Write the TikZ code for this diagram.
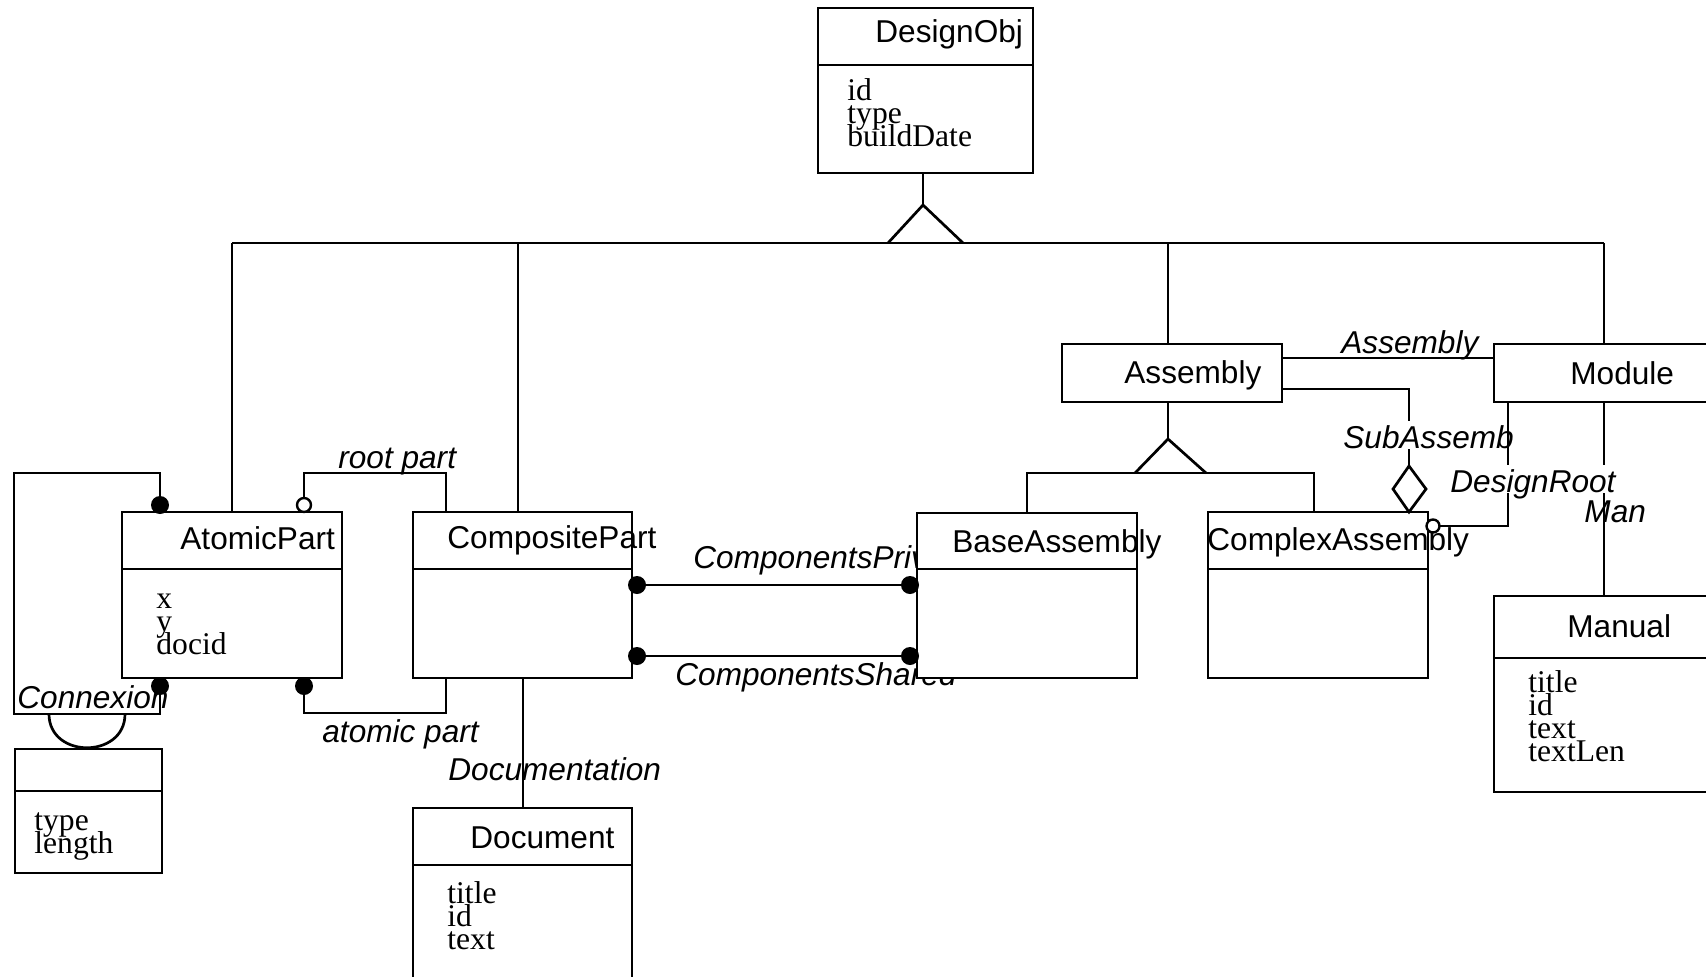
\documentclass[tikz,border=0pt]{standalone}
\usepackage{fontspec}
\setmainfont{Liberation Serif}
\setsansfont{Liberation Sans}
\usetikzlibrary{calc}
\tikzset{
  ln/.style={line width=1.35pt},
  clsbox/.style={draw, line width=1.35pt, fill=white, inner sep=0pt, outer sep=0pt, anchor=north west},
  cname/.style={font=\fontsize{15.8pt}{18pt}\selectfont\sffamily, anchor=base west, inner sep=0pt},
  attr/.style={font=\fontsize{15.8pt}{18pt}\selectfont\rmfamily, anchor=base west, inner sep=0pt},
  lab/.style={font=\fontsize{15.8pt}{18pt}\selectfont\sffamily\itshape, anchor=base west, inner sep=0pt},
  opq/.style={lab, fill=white, text height=13.5pt, text depth=0.5pt},
  fdot/.style={circle, fill=black, draw=none, minimum size=9pt, inner sep=0pt},
  odot/.style={circle, fill=white, draw=black, line width=1.2pt, minimum size=6.5pt, inner sep=0pt},
}
\newcommand{\clsdiv}[2]{\draw[ln] ($(#1.north west)+(0,#2)$) -- ($(#1.north east)+(0,#2)$);}
\newcommand{\clsline}[1]{\draw[ln] (#1.north west) rectangle (#1.south east);}
\begin{document}
\begin{tikzpicture}[x=0.5pt,y=-0.5pt]
\useasboundingbox (0,0) rectangle (1706,976);
\clip (0,0) rectangle (1706,976);

% association labels lying under lines and boxes
\node[lab] (lConn) at (17,708) {Connexion};
\node[lab] (lRoot) at (338,468) {root part};
\node[lab] (lAtom) at (322,742) {atomic part};
\node[lab] (lPriv) at (693,568) {ComponentsPriv};
\node[lab] (lShared) at (675,685) {ComponentsShared};
\node[lab] (lDoc) at (448,780) {Documentation};
\node[lab] (lAsm) at (1341,353) {Assembly};
\node[lab] (lMan) at (1584,522) {Man};

% class boxes
\node[clsbox, minimum width=107.5pt, minimum height=82.5pt] (DO) at (818,8) {};
\node[clsbox, minimum width=110pt, minimum height=83pt] (AP) at (122,512) {};
\node[clsbox, minimum width=109.5pt, minimum height=83pt] (CP) at (413,512) {};
\node[clsbox, minimum width=73.5pt, minimum height=62pt] (CN) at (15,749) {};
\node[clsbox, minimum width=109.5pt, minimum height=96pt] (DC) at (413,808) {};
\node[clsbox, minimum width=110pt, minimum height=82.5pt] (BA) at (917,513) {};
\node[clsbox, minimum width=110pt, minimum height=83pt] (CX) at (1208,512) {};
\node[clsbox, minimum width=110pt, minimum height=29pt] (AS) at (1062,344) {};
\node[clsbox, minimum width=118pt, minimum height=29pt] (MO) at (1494,344) {};
\node[clsbox, minimum width=118pt, minimum height=98pt] (MA) at (1494,596) {};

\clsdiv{DO}{57}
\clsdiv{AP}{57}
\clsdiv{CP}{57}
\clsdiv{CN}{42}
\clsdiv{DC}{57}
\clsdiv{BA}{56}
\clsdiv{CX}{57}
\clsdiv{MA}{62}

% class names
\node[cname] (nDO) at (875,42) {DesignObj};
\node[cname] (nAP) at (180,549) {AtomicPart};
\node[cname] (nCP) at (447,548) {CompositePart};
\node[cname] (nDC) at (470,848) {Document};
\node[cname] (nBA) at (952,552) {BaseAssembly};
\node[cname] (nCX) at (1207,550) {ComplexAssembly};
\node[cname] (nAS) at (1124,383) {Assembly};
\node[cname] (nMO) at (1570,384) {Module};
\node[cname] (nMA) at (1567,637) {Manual};

% attributes
\node[attr] (aDO1) at (847,100) {id};
\node[attr] (aDO2) at (847,123) {type};
\node[attr] (aDO3) at (847,146) {buildDate};
\node[attr] (aAP1) at (156,608) {x};
\node[attr] (aAP2) at (156,631) {y};
\node[attr] (aAP3) at (156,654) {docid};
\node[attr] (aCN1) at (34,830) {type};
\node[attr] (aCN2) at (34,853) {length};
\node[attr] (aDC1) at (447,903) {title};
\node[attr] (aDC2) at (447,926) {id};
\node[attr] (aDC3) at (447,949) {text};
\node[attr] (aMA1) at (1528,692) {title};
\node[attr] (aMA2) at (1528,715) {id};
\node[attr] (aMA3) at (1528,738) {text};
\node[attr] (aMA4) at (1528,761) {textLen};

% outlines over overflowing names
\clsline{CP}
\clsline{BA}
\clsline{CX}

% generalisation: DesignObj
\coordinate (apexDO) at (923,205);
\coordinate (busL) at (232,243);
\coordinate (busCP) at (518,243);
\coordinate (busAS) at (1168,243);
\coordinate (busR) at (1604,243);
\draw[ln] (apexDO |- DO.south) -- (apexDO);
\draw[ln] (888,243) -- (apexDO) -- (963,243);
\draw[ln] (busL) -- (busR);
\draw[ln] (busL) -- (busL |- AP.north);
\draw[ln] (busCP) -- (busCP |- CP.north);
\draw[ln] (busAS) -- (busAS |- AS.north);
\draw[ln] (busR) -- (busR |- MO.north);

% generalisation: Assembly
\coordinate (apexAS) at (1168,439);
\coordinate (bus2L) at (1027,473);
\coordinate (bus2R) at (1314,473);
\draw[ln] (apexAS |- AS.south) -- (apexAS);
\draw[ln] (1135,473) -- (apexAS) -- (1206,473);
\draw[ln] (BA.north -| bus2L) -- (bus2L) -- (bus2R) -- (bus2R |- CX.north);

% Connexion self association
\coordinate (cA) at (160,505);
\coordinate (cB) at (160,686);
\draw[ln] (cA) -- (160,473) -- (14,473) -- (14,714) -- (160,714) -- (cB);
\draw[ln] (49,714) .. controls (49,759) and (125,759) .. (125,714);

% root part / atomic part
\coordinate (rA) at (304,505);
\coordinate (rB) at (446,473);
\draw[ln] (rA) |- (rB) -- (rB |- CP.north);
\coordinate (aA) at (304,686);
\coordinate (aB) at (446,713);
\draw[ln] (aA) |- (aB) -- (aB |- CP.south);

% ComponentsPriv / ComponentsShared
\coordinate (p1) at (637,585);
\coordinate (p2) at (910,585);
\coordinate (s1) at (637,656);
\coordinate (s2) at (910,656);
\draw[ln] (p1) -- (p2);
\draw[ln] (s1) -- (s2);

% Documentation
\coordinate (docx) at (523,0);
\draw[ln] (CP.south -| docx) -- (DC.north -| docx);

% Assembly - Module
\coordinate (asy) at (0,358);
\draw[ln] (AS.east |- asy) -- (MO.west |- asy);

% Module - Manual
\coordinate (mx) at (1604,0);
\draw[ln] (MO.south -| mx) -- (MA.north -| mx);

% dots
\node[fdot] (dcA) at (cA) {};
\node[fdot] (dcB) at (cB) {};
\node[fdot] (daA) at (aA) {};
\node[fdot] (dp1) at (p1) {};
\node[fdot] (dp2) at (p2) {};
\node[fdot] (ds1) at (s1) {};
\node[fdot] (ds2) at (s2) {};
\node[odot, minimum size=7pt] (drA) at (rA) {};

% SubAssembly aggregation
\coordinate (sa) at (1409,389);
\coordinate (dTop) at (1409,466);
\draw[ln] (AS.east |- sa) -- (sa) -- (dTop);
\draw[ln, fill=white, line join=miter] (dTop) -- (1426,489) -- (1409,512) -- (1393,489) -- cycle;
\node[opq] (lSub) at (1343,448) {SubAssemb};

% DesignRoot
\coordinate (oc) at (1433,526);
\coordinate (dr) at (1508,526);
\draw[ln] (oc) -- (dr) -- (dr |- MO.south);
\node[odot] (doc) at (oc) {};
\node[opq] (lDR) at (1450,492) {DesignRoot};
\end{tikzpicture}
\end{document}
